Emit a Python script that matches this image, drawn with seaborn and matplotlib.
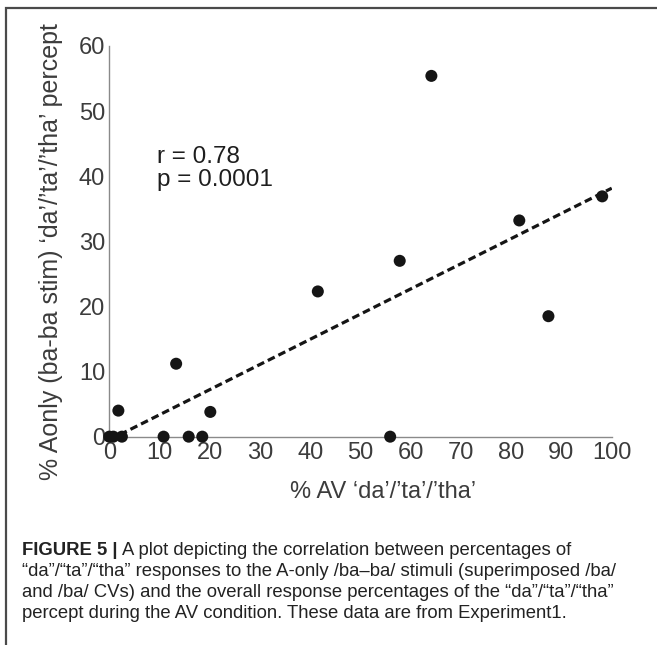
import numpy as np
import pandas as pd
import matplotlib
matplotlib.use("Agg")
import matplotlib.pyplot as plt
import seaborn as sns
from matplotlib.patches import Rectangle

# values
av_pct = [0.0, 0.8, 2.5, 1.8, 10.8, 13.3, 15.8, 18.5, 20.1, 41.5, 55.9, 57.8, 64.1, 81.6, 87.4, 98.1]
aonly_pct = [0.0, 0.0, 0.0, 4.0, 0.0, 11.2, 0.0, 0.0, 3.8, 22.3, 0.0, 27.0, 55.4, 33.2, 18.5, 36.9]
x_ticks = list(range(0, 101, 10))
y_ticks = list(range(0, 61, 10))
stats_text = "r = 0.78\np = 0.0001"
caption_head = "FIGURE 5 |"
caption_lines = [
    "A plot depicting the correlation between percentages of",
    "\u201cda\u201d/\u201cta\u201d/\u201ctha\u201d responses to the A-only /ba\u2013ba/ stimuli (superimposed /ba/",
    "and /ba/ CVs) and the overall response percentages of the \u201cda\u201d/\u201cta\u201d/\u201ctha\u201d",
    "percept during the AV condition. These data are from Experiment1.",
]

df = pd.DataFrame({"av": av_pct, "aonly": aonly_pct})

sns.set_style("white")
plt.rcParams["font.family"] = ["Liberation Sans", "DejaVu Sans"]

W, H = 657, 645
fig = plt.figure(figsize=(W / 100, H / 100), dpi=100)
ax = fig.add_axes([0.1664, 0.323, 0.7647, 0.6058])

ax.set_xlim(0, 100)
ax.set_ylim(0, 60)
sns.regplot(
    data=df, x="av", y="aonly", ax=ax, ci=None, truncate=False,
    scatter_kws={"s": 75, "color": "#151515", "edgecolor": "none",
                 "clip_on": False, "zorder": 4, "alpha": 1},
    line_kws={"color": "#151515", "lw": 2.3, "linestyle": (0, (2.4, 1.3)), "zorder": 3},
)
ax.set_xlim(0, 100)
ax.set_ylim(0, 60)
ax.set_xticks(x_ticks)
ax.set_yticks(y_ticks)

gray = "#8a8a8a"
for side in ["top", "right"]:
    ax.spines[side].set_visible(False)
for side in ["left", "bottom"]:
    ax.spines[side].set_color(gray)
    ax.spines[side].set_linewidth(1.0)
ax.tick_params(direction="in", length=5, width=1, color=gray,
               labelsize=17, labelcolor="#3c3c3c", pad=4)
ax.tick_params(axis="y", pad=3)

ax.set_xlabel("% AV \u2018da\u2019/\u2019ta\u2019/\u2019tha\u2019", fontsize=17, color="#3c3c3c")
ax.set_ylabel("% Aonly (ba-ba stim) \u2018da\u2019/\u2019ta\u2019/\u2019tha\u2019 percept",
              fontsize=18, color="#3c3c3c")
ax.xaxis.set_label_coords(0.545, -0.113)
ax.yaxis.set_label_coords(-0.092, 0.475)

ax.text(9.5, 41.2, stats_text, fontsize=17.5, color="#1e1e1e",
        va="center", ha="left", linespacing=1.1)

# frame around the whole figure panel
fig.patches.append(Rectangle((6 / W, -0.05), 1.1, 1 - 8 / H + 0.05,
                             transform=fig.transFigure, fill=False,
                             edgecolor="#4a4a4a", lw=1.6))

# caption, one text per line, baselines in pixels from the top
cap_size = 13.3
baselines = [555, 576, 597, 618]
head = fig.text(22 / W, 1 - baselines[0] / H, caption_head, fontsize=cap_size,
                fontweight="bold", color="#222222", va="baseline")
fig.canvas.draw()
head_end = head.get_window_extent().x1 + 5
for i, line in enumerate(caption_lines):
    x0 = head_end / W if i == 0 else 22 / W
    fig.text(x0, 1 - baselines[i] / H, line, fontsize=cap_size,
             color="#222222", va="baseline")

fig.savefig("out.png", dpi=100)
plt.close(fig)
